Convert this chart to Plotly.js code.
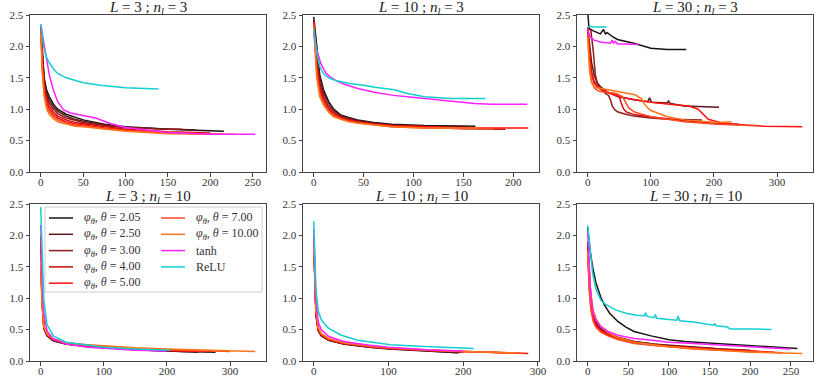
<!DOCTYPE html>
<html>
<head>
<meta charset="utf-8">
<script src="https://cdn.plot.ly/plotly-3.0.1.min.js"></script>
<style>
body { margin: 0; background: #fff; }
#loss { width: 830px; height: 388px; }
</style>
</head>
<body>
<div id="loss"></div>
<script>
// series order: theta 2.05, 2.50, 3.00, 4.00, 5.00, 7.00, 10.00, tanh, ReLU
var seriesNames = [
	"<i>φ</i><sub><i>θ</i></sub>, <i>θ</i> = 2.05",
	"<i>φ</i><sub><i>θ</i></sub>, <i>θ</i> = 2.50",
	"<i>φ</i><sub><i>θ</i></sub>, <i>θ</i> = 3.00",
	"<i>φ</i><sub><i>θ</i></sub>, <i>θ</i> = 4.00",
	"<i>φ</i><sub><i>θ</i></sub>, <i>θ</i> = 5.00",
	"<i>φ</i><sub><i>θ</i></sub>, <i>θ</i> = 7.00",
	"<i>φ</i><sub><i>θ</i></sub>, <i>θ</i> = 10.00",
	"tanh",
	"ReLU"
];
var seriesColors = ["#1a1212", "#5e1616", "#8e1c1c", "#cc0a0a", "#ff1010", "#ff4a24", "#ff7418", "#ff20ff", "#12cfd2"];

var panelTitles = [
	"<i>L</i> = 3 ; <i>n<sub>l</sub></i> = 3",
	"<i>L</i> = 10 ; <i>n<sub>l</sub></i> = 3",
	"<i>L</i> = 30 ; <i>n<sub>l</sub></i> = 3",
	"<i>L</i> = 3 ; <i>n<sub>l</sub></i> = 10",
	"<i>L</i> = 10 ; <i>n<sub>l</sub></i> = 10",
	"<i>L</i> = 30 ; <i>n<sub>l</sub></i> = 10"
];
var panelXRange = [[-12.7, 265.7], [-10.75, 225.75], [-17, 357], [-17, 357], [-14.35, 301.35], [-13.2, 277.2]];
var panelXStep = [50, 50, 100, 100, 100, 50];
var yTicks = [0, 0.5, 1.0, 1.5, 2.0, 2.5];

// L = 3 ; n_l = 3
var L3n3_x = [
	[0, 2, 4, 7, 10, 15, 20, 30, 40, 50, 75, 100, 150, 216],
	[0, 2, 4, 7, 10, 15, 20, 30, 40, 50, 75, 100, 150, 183],
	[0, 2, 4, 7, 10, 15, 20, 30, 40, 50, 75, 100, 150, 167],
	[0, 2, 4, 7, 10, 15, 20, 30, 40, 50, 75, 100, 150, 200],
	[0, 2, 4, 7, 10, 15, 20, 30, 40, 50, 75, 100, 150, 190],
	[0, 2, 4, 7, 10, 15, 20, 30, 40, 50, 75, 100, 150, 215],
	[0, 2, 4, 7, 10, 15, 20, 30, 40, 50, 75, 100, 150, 228],
	[0, 3, 6, 10, 15, 20, 27, 35, 45, 55, 65, 80, 100, 130, 150, 200, 253],
	[0, 2, 4, 7, 10, 15, 20, 30, 50, 70, 100, 139]
];
var L3n3_y = [
	[2.3, 1.85, 1.5, 1.3, 1.2, 1.08, 1.0, 0.92, 0.87, 0.83, 0.76, 0.72, 0.68, 0.65],
	[2.3, 1.8, 1.45, 1.25, 1.15, 1.04, 0.97, 0.89, 0.84, 0.81, 0.75, 0.71, 0.68, 0.67],
	[2.3, 1.75, 1.4, 1.2, 1.1, 1.0, 0.93, 0.86, 0.82, 0.79, 0.74, 0.71, 0.68, 0.68],
	[2.3, 1.7, 1.35, 1.15, 1.05, 0.95, 0.89, 0.83, 0.79, 0.77, 0.72, 0.68, 0.64, 0.62],
	[2.28, 1.65, 1.3, 1.1, 1.0, 0.91, 0.86, 0.8, 0.77, 0.75, 0.7, 0.67, 0.63, 0.61],
	[2.25, 1.6, 1.25, 1.05, 0.96, 0.88, 0.83, 0.78, 0.75, 0.73, 0.69, 0.66, 0.62, 0.6],
	[2.2, 1.55, 1.2, 1.0, 0.92, 0.85, 0.8, 0.76, 0.73, 0.72, 0.68, 0.65, 0.61, 0.6],
	[2.35, 2.1, 1.85, 1.55, 1.3, 1.12, 0.99, 0.94, 0.91, 0.89, 0.86, 0.78, 0.71, 0.66, 0.63, 0.6, 0.6],
	[2.35, 2.15, 1.95, 1.82, 1.74, 1.64, 1.57, 1.5, 1.42, 1.38, 1.34, 1.32]
];

// L = 10 ; n_l = 3
var L10n3_x = [
	[0, 3, 6, 10, 15, 20, 27, 35, 44, 60, 78, 111, 162],
	[0, 3, 6, 10, 15, 20, 27, 35, 44, 60, 78, 111, 160],
	[0, 3, 6, 10, 15, 20, 27, 35, 44, 60, 78, 111, 150],
	[0, 3, 6, 10, 15, 20, 27, 35, 44, 60, 78, 111, 150, 192],
	[0, 3, 6, 10, 15, 20, 27, 35, 44, 60, 78, 111, 150, 215],
	[0, 3, 6, 10, 15, 20, 27, 35, 44, 60, 78, 111, 150, 180],
	[0, 3, 6, 10, 15, 20, 27, 35, 44, 60, 78, 111, 165],
	[0, 3, 7, 12, 16, 22, 30, 44, 61, 80, 94, 128, 161, 178, 214],
	[0, 3, 6, 10, 15, 21, 30, 36, 50, 61, 81, 94, 111, 138, 172]
];
var L10n3_y = [
	[2.47, 1.95, 1.55, 1.3, 1.12, 1.0, 0.91, 0.87, 0.83, 0.79, 0.76, 0.74, 0.73],
	[2.42, 1.9, 1.5, 1.26, 1.1, 0.99, 0.9, 0.86, 0.82, 0.78, 0.75, 0.73, 0.72],
	[2.4, 1.8, 1.42, 1.2, 1.05, 0.96, 0.88, 0.84, 0.81, 0.77, 0.74, 0.72, 0.71],
	[2.4, 1.7, 1.35, 1.15, 1.01, 0.93, 0.87, 0.83, 0.8, 0.76, 0.73, 0.71, 0.69, 0.68],
	[2.38, 1.65, 1.3, 1.12, 0.99, 0.92, 0.86, 0.82, 0.79, 0.76, 0.74, 0.72, 0.7, 0.7],
	[2.35, 1.6, 1.25, 1.1, 0.97, 0.9, 0.85, 0.81, 0.78, 0.75, 0.72, 0.7, 0.69, 0.69],
	[2.3, 1.5, 1.2, 1.06, 0.95, 0.88, 0.84, 0.8, 0.78, 0.75, 0.72, 0.7, 0.7],
	[2.2, 1.95, 1.73, 1.58, 1.52, 1.46, 1.4, 1.33, 1.27, 1.22, 1.2, 1.14, 1.09, 1.08, 1.08],
	[2.27, 1.9, 1.68, 1.56, 1.5, 1.46, 1.43, 1.41, 1.38, 1.35, 1.31, 1.25, 1.2, 1.17, 1.17]
];

// L = 30 ; n_l = 3
var L30n3_x = [
	[0, 2, 8, 15, 20, 25, 28, 31, 36, 40, 47, 60, 73, 100, 126, 156],
	[0, 3, 6, 10, 15, 20, 30, 47, 73, 95, 98, 101, 126, 128, 131, 153, 208],
	[0, 5, 9, 12, 15, 20, 27, 33, 36, 39, 43, 47, 60, 73, 100, 126, 181],
	[0, 3, 6, 10, 15, 20, 30, 45, 50, 53, 57, 62, 75, 100, 150, 200, 240],
	[0, 3, 6, 10, 15, 20, 30, 50, 75, 100, 130, 160, 175, 185, 191, 210, 227, 250, 280, 340],
	[0, 3, 6, 10, 15, 20, 30, 45, 55, 60, 65, 75, 100, 153, 205, 258, 270],
	[0, 3, 6, 10, 15, 20, 30, 50, 75, 85, 90, 97, 100, 126, 153, 205, 228],
	[0, 2, 5, 10, 20, 30, 36, 39, 41, 44, 47, 60, 80],
	[0, 5, 10, 20, 30]
];
var L30n3_y = [
	[2.55, 2.29, 2.25, 2.22, 2.2, 2.27, 2.2, 2.22, 2.18, 2.15, 2.11, 2.08, 2.05, 1.97, 1.95, 1.95],
	[2.3, 2.0, 1.75, 1.55, 1.42, 1.36, 1.28, 1.2, 1.15, 1.12, 1.18, 1.11, 1.1, 1.13, 1.09, 1.05, 1.03],
	[2.3, 2.25, 1.9, 1.55, 1.42, 1.33, 1.26, 1.22, 1.15, 1.05, 0.99, 0.96, 0.92, 0.89, 0.86, 0.84, 0.83],
	[2.25, 1.85, 1.6, 1.45, 1.37, 1.32, 1.27, 1.24, 1.2, 1.1, 1.0, 0.95, 0.91, 0.88, 0.82, 0.78, 0.76],
	[2.3, 1.8, 1.55, 1.42, 1.36, 1.32, 1.27, 1.2, 1.15, 1.11, 1.08, 1.05, 1.0, 0.9, 0.84, 0.79, 0.76, 0.75, 0.73, 0.72],
	[2.2, 1.7, 1.45, 1.35, 1.3, 1.28, 1.27, 1.25, 1.2, 1.1, 1.02, 0.95, 0.88, 0.8, 0.76, 0.74, 0.74],
	[2.15, 1.6, 1.42, 1.36, 1.34, 1.33, 1.31, 1.28, 1.23, 1.17, 1.08, 1.0, 0.98, 0.88, 0.83, 0.79, 0.8],
	[2.28, 2.2, 2.14, 2.1, 2.07, 2.06, 2.05, 2.1, 2.05, 2.08, 2.04, 2.04, 2.03],
	[2.31, 2.32, 2.31, 2.31, 2.31]
];

// L = 3 ; n_l = 10
var L3n10_x = [
	[0, 2, 5, 10, 20, 40, 75, 100, 150, 200, 277],
	[0, 2, 5, 10, 20, 40, 75, 100, 150, 200, 250],
	[0, 2, 5, 10, 20, 40, 75, 100, 150, 200, 230],
	[0, 2, 5, 10, 20, 40, 75, 100, 150, 200, 270],
	[0, 2, 5, 10, 20, 40, 75, 100, 150, 200, 260],
	[0, 2, 5, 10, 20, 40, 75, 100, 150, 200, 300],
	[0, 2, 5, 10, 20, 40, 75, 100, 150, 200, 340],
	[0, 2, 5, 10, 20, 40, 75, 100, 150, 200],
	[0, 2, 5, 10, 20, 40, 75, 100, 150, 205]
];
var L3n10_y = [
	[1.85, 1.0, 0.52, 0.4, 0.32, 0.27, 0.23, 0.21, 0.18, 0.16, 0.14],
	[1.8, 0.98, 0.52, 0.4, 0.32, 0.27, 0.23, 0.21, 0.18, 0.16, 0.14],
	[1.75, 0.95, 0.53, 0.41, 0.33, 0.27, 0.23, 0.21, 0.19, 0.17, 0.15],
	[2.0, 1.05, 0.55, 0.42, 0.34, 0.28, 0.24, 0.22, 0.19, 0.17, 0.15],
	[1.9, 1.0, 0.55, 0.42, 0.34, 0.28, 0.24, 0.22, 0.19, 0.17, 0.15],
	[1.7, 0.95, 0.55, 0.43, 0.35, 0.29, 0.25, 0.23, 0.2, 0.18, 0.15],
	[1.6, 0.9, 0.55, 0.43, 0.35, 0.29, 0.26, 0.24, 0.21, 0.19, 0.15],
	[2.17, 1.4, 0.75, 0.48, 0.35, 0.27, 0.22, 0.2, 0.17, 0.16],
	[2.45, 1.7, 0.95, 0.58, 0.4, 0.3, 0.25, 0.22, 0.19, 0.17]
];

// L = 10 ; n_l = 10
var L10n10_x = [
	[0, 3, 6, 10, 20, 40, 75, 100, 150, 192],
	[0, 3, 6, 10, 20, 40, 75, 100, 150, 195],
	[0, 3, 6, 10, 20, 40, 75, 100, 150, 200],
	[0, 3, 6, 10, 20, 40, 75, 100, 150, 200, 260],
	[0, 3, 6, 10, 20, 40, 75, 100, 150, 200, 287],
	[0, 3, 6, 10, 20, 40, 75, 100, 150, 200, 280],
	[0, 3, 6, 10, 20, 40, 75, 100, 150, 200, 270],
	[0, 3, 6, 10, 20, 40, 75, 100, 150, 199],
	[0, 3, 6, 10, 15, 20, 37, 59, 103, 148, 214]
];
var L10n10_y = [
	[1.9, 0.72, 0.48, 0.4, 0.33, 0.27, 0.22, 0.19, 0.16, 0.13],
	[1.95, 0.74, 0.49, 0.41, 0.33, 0.27, 0.22, 0.2, 0.16, 0.13],
	[1.98, 0.76, 0.5, 0.41, 0.34, 0.28, 0.23, 0.2, 0.17, 0.14],
	[2.0, 0.78, 0.5, 0.42, 0.34, 0.28, 0.23, 0.2, 0.17, 0.15, 0.13],
	[1.95, 0.78, 0.51, 0.42, 0.34, 0.28, 0.23, 0.2, 0.17, 0.15, 0.12],
	[1.9, 0.8, 0.52, 0.43, 0.35, 0.29, 0.23, 0.21, 0.17, 0.15, 0.12],
	[1.85, 0.82, 0.54, 0.44, 0.36, 0.29, 0.24, 0.21, 0.18, 0.15, 0.13],
	[2.1, 1.0, 0.62, 0.5, 0.39, 0.31, 0.25, 0.22, 0.18, 0.16],
	[2.23, 1.13, 0.8, 0.66, 0.58, 0.52, 0.41, 0.33, 0.26, 0.23, 0.2]
];

// L = 30 ; n_l = 10
var L30n10_x = [
	[0, 3, 6, 10, 16, 21, 27, 37, 47, 57, 78, 100, 119, 160, 202, 258],
	[0, 2, 4, 7, 10, 16, 25, 37, 57, 80, 99, 130, 157],
	[0, 2, 4, 7, 10, 16, 25, 37, 57, 80, 99, 130, 160, 200],
	[0, 2, 4, 7, 10, 16, 25, 37, 57, 80, 99, 130, 160, 200, 210],
	[0, 2, 4, 7, 10, 16, 25, 37, 57, 80, 99, 130, 160, 200, 230],
	[0, 2, 4, 7, 10, 16, 25, 37, 57, 80, 99, 130, 160, 200, 240],
	[0, 2, 4, 7, 10, 16, 25, 37, 57, 80, 99, 130, 160, 200, 264],
	[0, 3, 6, 10, 16, 25, 37, 57, 80, 99, 130, 160, 202, 250],
	[0, 3, 6, 10, 16, 22, 27, 35, 47, 60, 70, 71, 73, 82, 83, 85, 100, 110, 111, 113, 130, 140, 155, 156, 158, 172, 175, 202, 226]
];
var L30n10_y = [
	[2.12, 1.75, 1.5, 1.25, 1.02, 0.88, 0.76, 0.63, 0.54, 0.47, 0.4, 0.34, 0.31, 0.28, 0.24, 0.2],
	[1.9, 1.3, 0.95, 0.72, 0.62, 0.52, 0.44, 0.38, 0.31, 0.27, 0.25, 0.22, 0.2],
	[1.85, 1.25, 0.92, 0.7, 0.6, 0.5, 0.43, 0.37, 0.31, 0.27, 0.24, 0.21, 0.19, 0.17],
	[1.8, 1.2, 0.9, 0.68, 0.58, 0.49, 0.42, 0.36, 0.3, 0.26, 0.24, 0.21, 0.19, 0.16, 0.15],
	[1.75, 1.15, 0.85, 0.65, 0.56, 0.47, 0.41, 0.35, 0.29, 0.25, 0.23, 0.2, 0.18, 0.16, 0.14],
	[1.7, 1.1, 0.8, 0.62, 0.54, 0.46, 0.4, 0.34, 0.28, 0.25, 0.22, 0.19, 0.17, 0.15, 0.13],
	[1.75, 1.35, 1.05, 0.8, 0.68, 0.55, 0.45, 0.37, 0.3, 0.26, 0.23, 0.2, 0.17, 0.14, 0.12],
	[2.06, 1.2, 0.8, 0.65, 0.55, 0.47, 0.41, 0.36, 0.33, 0.3, 0.28, 0.26, 0.23, 0.19],
	[2.16, 1.75, 1.4, 1.15, 0.97, 0.9, 0.86, 0.81, 0.76, 0.73, 0.72, 0.77, 0.71, 0.69, 0.74, 0.68, 0.66, 0.65, 0.72, 0.64, 0.62, 0.6, 0.57, 0.6, 0.56, 0.54, 0.51, 0.51, 0.5]
];

var panelX = [L3n3_x, L10n3_x, L30n3_x, L3n10_x, L10n10_x, L30n10_x];
var panelY = [L3n3_y, L10n3_y, L30n3_y, L3n10_y, L10n10_y, L30n10_y];

var W = 830, H = 388;
var colsPx = [[30, 266], [303, 539], [577, 813]];
var rowsPx = [[15, 172], [204, 361]];
var serif = "Liberation Serif, DejaVu Serif, serif";
var linewidth = 1.5;

var data = [];
var layout = {
	width: W,
	height: H,
	margin: {l: 0, r: 0, t: 0, b: 0},
	paper_bgcolor: "#fff",
	plot_bgcolor: "#fff",
	font: {family: serif, size: 11, color: "#222"},
	showlegend: false,
	annotations: [],
	shapes: [{
		// legend frame, drawn over the curves like matplotlib does
		type: "rect", xref: "paper", yref: "paper",
		x0: 45 / W, x1: 262 / W, y0: 1 - 292 / H, y1: 1 - 207 / H,
		line: {color: "#cccccc", width: 1},
		fillcolor: "rgba(255,255,255,0.85)",
		layer: "above"
	}]
};

for (var p = 0; p < 6; p++) {
	var col = p % 3, row = Math.floor(p / 3);
	var xa = p === 0 ? "x" : "x" + (p + 1);
	var ya = p === 0 ? "y" : "y" + (p + 1);
	var xkey = p === 0 ? "xaxis" : "xaxis" + (p + 1);
	var ykey = p === 0 ? "yaxis" : "yaxis" + (p + 1);

	layout[xkey] = {
		domain: [colsPx[col][0] / W, colsPx[col][1] / W],
		anchor: ya,
		range: panelXRange[p],
		dtick: panelXStep[p],
		tick0: 0,
		showgrid: false,
		zeroline: false,
		showline: true,
		mirror: true,
		linecolor: "#444",
		linewidth: 1,
		ticks: "outside",
		ticklen: 3.5,
		tickcolor: "#444",
		ticklabelstandoff: -4,
		tickfont: {family: serif, size: 11, color: "#333"},
		fixedrange: true
	};
	layout[ykey] = {
		domain: [1 - rowsPx[row][1] / H, 1 - rowsPx[row][0] / H],
		anchor: xa,
		range: [0, 2.5],
		tickvals: yTicks,
		tickformat: ".1f",
		showgrid: false,
		zeroline: false,
		showline: true,
		mirror: true,
		linecolor: "#444",
		linewidth: 1,
		ticks: "outside",
		ticklen: 3.5,
		tickcolor: "#444",
		tickfont: {family: serif, size: 11, color: "#333"},
		fixedrange: true
	};

	layout.annotations.push({
		text: panelTitles[p],
		xref: xa + " domain", yref: ya + " domain",
		x: 0.5, y: 1, xanchor: "center", yanchor: "middle",
		yshift: 7,
		showarrow: false,
		font: {family: serif, size: 15, color: "#222"}
	});

	for (var s = 0; s < 9; s++) {
		data.push({
			type: "scatter",
			mode: "lines",
			x: panelX[p][s],
			y: panelY[p][s],
			xaxis: xa,
			yaxis: ya,
			name: seriesNames[s],
			line: {color: seriesColors[s], width: linewidth},
			hoverinfo: "skip"
		});
	}
}

// legend in the L = 3 ; n_l = 10 panel, two columns filled top to bottom
for (var s = 0; s < 9; s++) {
	var c = s < 5 ? 0 : 1;
	var r = s < 5 ? s : s - 5;
	var yy = 1 - (218 + 16.3 * r) / H;
	var lx = c === 0 ? 49 : 161;
	layout.shapes.push({
		type: "line", xref: "paper", yref: "paper",
		x0: lx / W, x1: (lx + 24) / W, y0: yy, y1: yy,
		line: {color: seriesColors[s], width: 1.5},
		layer: "above"
	});
	layout.annotations.push({
		text: seriesNames[s],
		xref: "paper", yref: "paper",
		x: (lx + 33) / W, y: yy, xanchor: "left", yanchor: "middle",
		showarrow: false,
		font: {family: serif, size: 12, color: "#333"}
	});
}

Plotly.newPlot("loss", data, layout, {displayModeBar: false, staticPlot: true});
</script>
</body>
</html>
